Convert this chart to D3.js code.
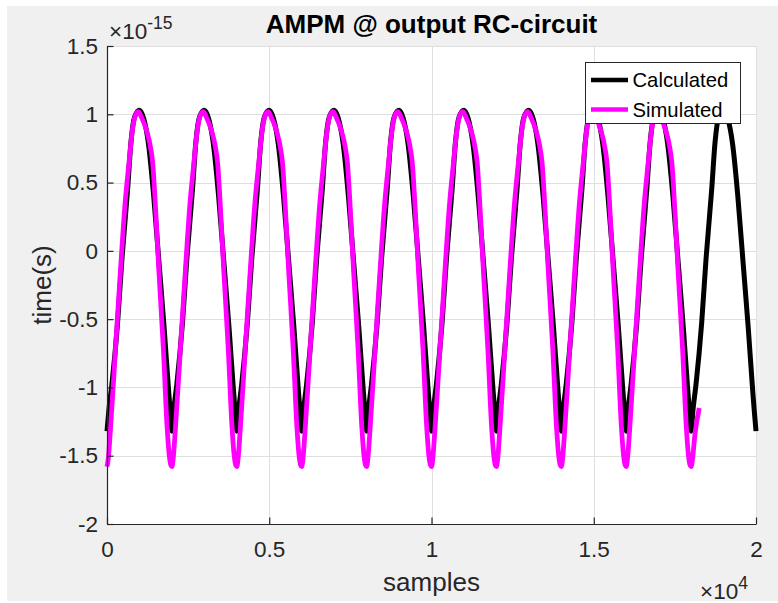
<!DOCTYPE html>
<html>
<head>
<meta charset="utf-8">
<script src="https://cdn.jsdelivr.net/npm/d3@7/dist/d3.min.js"></script>
<style>
  html, body { margin: 0; padding: 0; background: #ffffff; }
  svg { display: block; font-family: "Liberation Sans", Arial, Helvetica, sans-serif; }
</style>
</head>
<body>
<svg id="chart" width="778" height="603"></svg>
<script>
// Calculated AM-PM response (time in units of 1e-15 s) vs. sample index
const calcSamples = [
  0, 60, 150, 325, 460, 635, 740, 850, 1000, 1130, 1280, 1440, 1600, 1760, 1900, 1950,
  2000, 2060, 2150, 2325, 2460, 2635, 2740, 2850, 3000, 3130, 3280, 3440, 3600, 3760, 3900, 3950,
  4000, 4060, 4150, 4325, 4460, 4635, 4740, 4850, 5000, 5130, 5280, 5440, 5600, 5760, 5900, 5950,
  6000, 6060, 6150, 6325, 6460, 6635, 6740, 6850, 7000, 7130, 7280, 7440, 7600, 7760, 7900, 7950,
  8000, 8060, 8150, 8325, 8460, 8635, 8740, 8850, 9000, 9130, 9280, 9440, 9600, 9760, 9900, 9950,
  10000, 10060, 10150, 10325, 10460, 10635, 10740, 10850, 11000, 11130, 11280, 11440, 11600, 11760, 11900, 11950,
  12000, 12060, 12150, 12325, 12460, 12635, 12740, 12850, 13000, 13130, 13280, 13440, 13600, 13760, 13900, 13950,
  14000, 14060, 14150, 14325, 14460, 14635, 14740, 14850, 15000, 15130, 15280, 15440, 15600, 15760, 15900, 15950,
  16000, 16060, 16150, 16325, 16460, 16635, 16740, 16850, 17000, 17130, 17280, 17440, 17600, 17760, 17900, 17950,
  18000, 18060, 18150, 18325, 18460, 18635, 18740, 18850, 19000, 19130, 19280, 19440, 19600, 19760, 19900, 19950,
  20000
];
const calcValues = [
  -1.32, -1.16, -0.98, -0.53, -0.06, 0.45, 0.80, 0.98, 1.03, 0.97, 0.78, 0.40, -0.08, -0.56, -1.03, -1.18,
  -1.32, -1.16, -0.98, -0.53, -0.06, 0.45, 0.80, 0.98, 1.03, 0.97, 0.78, 0.40, -0.08, -0.56, -1.03, -1.18,
  -1.32, -1.16, -0.98, -0.53, -0.06, 0.45, 0.80, 0.98, 1.03, 0.97, 0.78, 0.40, -0.08, -0.56, -1.03, -1.18,
  -1.32, -1.16, -0.98, -0.53, -0.06, 0.45, 0.80, 0.98, 1.03, 0.97, 0.78, 0.40, -0.08, -0.56, -1.03, -1.18,
  -1.32, -1.16, -0.98, -0.53, -0.06, 0.45, 0.80, 0.98, 1.03, 0.97, 0.78, 0.40, -0.08, -0.56, -1.03, -1.18,
  -1.32, -1.16, -0.98, -0.53, -0.06, 0.45, 0.80, 0.98, 1.03, 0.97, 0.78, 0.40, -0.08, -0.56, -1.03, -1.18,
  -1.32, -1.16, -0.98, -0.53, -0.06, 0.45, 0.80, 0.98, 1.03, 0.97, 0.78, 0.40, -0.08, -0.56, -1.03, -1.18,
  -1.32, -1.16, -0.98, -0.53, -0.06, 0.45, 0.80, 0.98, 1.03, 0.97, 0.78, 0.40, -0.08, -0.56, -1.03, -1.18,
  -1.32, -1.16, -0.98, -0.53, -0.06, 0.45, 0.80, 0.98, 1.03, 0.97, 0.78, 0.40, -0.08, -0.56, -1.03, -1.18,
  -1.32, -1.16, -0.98, -0.53, -0.06, 0.45, 0.80, 0.98, 1.03, 0.97, 0.78, 0.40, -0.08, -0.56, -1.03, -1.18,
  -1.32
];

// Simulated AM-PM response
const simSamples = [
  0, 40, 100, 250, 400, 555, 680, 780, 870, 965, 1060, 1220, 1340, 1410, 1480, 1600, 1740, 1850, 1920, 1970,
  2000, 2040, 2100, 2250, 2400, 2555, 2680, 2780, 2870, 2965, 3060, 3220, 3340, 3410, 3480, 3600, 3740, 3850, 3920, 3970,
  4000, 4040, 4100, 4250, 4400, 4555, 4680, 4780, 4870, 4965, 5060, 5220, 5340, 5410, 5480, 5600, 5740, 5850, 5920, 5970,
  6000, 6040, 6100, 6250, 6400, 6555, 6680, 6780, 6870, 6965, 7060, 7220, 7340, 7410, 7480, 7600, 7740, 7850, 7920, 7970,
  8000, 8040, 8100, 8250, 8400, 8555, 8680, 8780, 8870, 8965, 9060, 9220, 9340, 9410, 9480, 9600, 9740, 9850, 9920, 9970,
  10000, 10040, 10100, 10250, 10400, 10555, 10680, 10780, 10870, 10965, 11060, 11220, 11340, 11410, 11480, 11600, 11740, 11850, 11920, 11970,
  12000, 12040, 12100, 12250, 12400, 12555, 12680, 12780, 12870, 12965, 13060, 13220, 13340, 13410, 13480, 13600, 13740, 13850, 13920, 13970,
  14000, 14040, 14100, 14250, 14400, 14555, 14680, 14780, 14870, 14965, 15060, 15220, 15340, 15410, 15480, 15600, 15740, 15850, 15920, 15970,
  16000, 16040, 16100, 16250, 16400, 16555, 16680, 16780, 16870, 16965, 17060, 17220, 17340, 17410, 17480, 17600, 17740, 17850, 17920, 17970,
  18000, 18040, 18120, 18250
];
const simValues = [
  -1.58, -1.52, -1.33, -0.76, -0.20, 0.34, 0.65, 0.88, 0.99, 1.02, 0.98, 0.88, 0.76, 0.64, 0.38, -0.15, -0.73, -1.28, -1.50, -1.57,
  -1.58, -1.52, -1.33, -0.76, -0.20, 0.34, 0.65, 0.88, 0.99, 1.02, 0.98, 0.88, 0.76, 0.64, 0.38, -0.15, -0.73, -1.28, -1.50, -1.57,
  -1.58, -1.52, -1.33, -0.76, -0.20, 0.34, 0.65, 0.88, 0.99, 1.02, 0.98, 0.88, 0.76, 0.64, 0.38, -0.15, -0.73, -1.28, -1.50, -1.57,
  -1.58, -1.52, -1.33, -0.76, -0.20, 0.34, 0.65, 0.88, 0.99, 1.02, 0.98, 0.88, 0.76, 0.64, 0.38, -0.15, -0.73, -1.28, -1.50, -1.57,
  -1.58, -1.52, -1.33, -0.76, -0.20, 0.34, 0.65, 0.88, 0.99, 1.02, 0.98, 0.88, 0.76, 0.64, 0.38, -0.15, -0.73, -1.28, -1.50, -1.57,
  -1.58, -1.52, -1.33, -0.76, -0.20, 0.34, 0.65, 0.88, 0.99, 1.02, 0.98, 0.88, 0.76, 0.64, 0.38, -0.15, -0.73, -1.28, -1.50, -1.57,
  -1.58, -1.52, -1.33, -0.76, -0.20, 0.34, 0.65, 0.88, 0.99, 1.02, 0.98, 0.88, 0.76, 0.64, 0.38, -0.15, -0.73, -1.28, -1.50, -1.57,
  -1.58, -1.52, -1.33, -0.76, -0.20, 0.34, 0.65, 0.88, 0.99, 1.02, 0.98, 0.88, 0.76, 0.64, 0.38, -0.15, -0.73, -1.28, -1.50, -1.57,
  -1.58, -1.52, -1.33, -0.76, -0.20, 0.34, 0.65, 0.88, 0.99, 1.02, 0.98, 0.88, 0.76, 0.64, 0.38, -0.15, -0.73, -1.28, -1.50, -1.57,
  -1.58, -1.53, -1.34, -1.15
];

const xTicks = [0, 5000, 10000, 15000, 20000];
const xTickLabels = ["0", "0.5", "1", "1.5", "2"];
const yTicks = [-2, -1.5, -1, -0.5, 0, 0.5, 1, 1.5];
const yTickLabels = ["-2", "-1.5", "-1", "-0.5", "0", "0.5", "1", "1.5"];
const seriesNames = ["Calculated", "Simulated"];
const seriesColors = ["#000000", "#ff00ff"];

const svg = d3.select("#chart");
const W = 778, H = 603;
const plot = { left: 107, right: 756, top: 46, bottom: 524 };
const ink = "#262626";
const tickFont = 22.5;

// figure background
svg.append("rect").attr("x", 0).attr("y", 0).attr("width", W).attr("height", H).attr("fill", "#ffffff");
svg.append("rect").attr("x", 7).attr("y", 6).attr("width", W - 7).attr("height", 595).attr("fill", "#f0f0f0");

// axes area
svg.append("rect")
  .attr("x", plot.left).attr("y", plot.top)
  .attr("width", plot.right - plot.left).attr("height", plot.bottom - plot.top)
  .attr("fill", "#ffffff");

const x = d3.scaleLinear().domain([0, 20000]).range([plot.left, plot.right]);
const y = d3.scaleLinear().domain([-2, 1.5]).range([plot.bottom, plot.top]);

// grid
const grid = svg.append("g").attr("stroke", "#dfdfdf").attr("stroke-width", 1);
grid.selectAll("line.gx").data(xTicks).join("line")
  .attr("x1", d => Math.round(x(d)) + 0.5).attr("x2", d => Math.round(x(d)) + 0.5)
  .attr("y1", plot.top).attr("y2", plot.bottom);
grid.selectAll("line.gy").data(yTicks).join("line")
  .attr("x1", plot.left).attr("x2", plot.right)
  .attr("y1", d => Math.round(y(d)) + 0.5).attr("y2", d => Math.round(y(d)) + 0.5);

// series lines
const line = d3.line()
  .x(d => x(d[0]))
  .y(d => y(d[1]))
  .curve(d3.curveMonotoneX);

const calcData = calcSamples.map((s, i) => [s, calcValues[i]]);
const simData = simSamples.map((s, i) => [s, simValues[i]]);

svg.append("defs").append("filter").attr("id", "soft")
  .append("feGaussianBlur").attr("stdDeviation", 0.45);

svg.append("path").datum(calcData)
  .attr("d", line)
  .attr("fill", "none")
  .attr("stroke", seriesColors[0])
  .attr("stroke-width", 5)
  .attr("stroke-linejoin", "round")
  .attr("filter", "url(#soft)");

svg.append("path").datum(simData)
  .attr("d", line)
  .attr("fill", "none")
  .attr("stroke", seriesColors[1])
  .attr("stroke-width", 4.8)
  .attr("stroke-linejoin", "round");

// axes
const xAxis = d3.axisBottom(x)
  .tickValues(xTicks)
  .tickFormat((d, i) => xTickLabels[i])
  .tickSizeInner(-6.5)
  .tickSizeOuter(0)
  .tickPadding(17);
const yAxis = d3.axisLeft(y)
  .tickValues(yTicks)
  .tickFormat((d, i) => yTickLabels[i])
  .tickSizeInner(-6.5)
  .tickSizeOuter(0)
  .tickPadding(9);

const gx = svg.append("g").attr("transform", `translate(0,${plot.bottom})`).call(xAxis);
const gy = svg.append("g").attr("transform", `translate(${plot.left},0)`).call(yAxis);
[gx, gy].forEach(g => {
  g.selectAll("path.domain").attr("stroke", ink).attr("stroke-width", 1.2);
  g.selectAll(".tick line").attr("stroke", ink).attr("stroke-width", 1.2);
  g.selectAll(".tick text")
    .attr("fill", ink)
    .style("font-family", "'Liberation Sans', Arial, sans-serif")
    .style("font-size", tickFont + "px");
});

// exponent labels
const expY = svg.append("text")
  .attr("x", 109).attr("y", 39)
  .attr("fill", ink)
  .style("font-size", tickFont + "px");
expY.append("tspan").text("\u00d710");
expY.append("tspan").attr("dy", -10).style("font-size", "17.5px").text("-15");

const expX = svg.append("text")
  .attr("x", 700).attr("y", 599)
  .attr("fill", ink)
  .style("font-size", tickFont + "px");
expX.append("tspan").text("\u00d710");
expX.append("tspan").attr("dy", -10).style("font-size", "17.5px").text("4");

// title and axis labels
svg.append("text")
  .attr("x", (plot.left + plot.right) / 2).attr("y", 33)
  .attr("text-anchor", "middle")
  .attr("fill", "#000000")
  .style("font-size", "26px").style("font-weight", "bold")
  .text("AMPM @ output RC-circuit");

svg.append("text")
  .attr("x", (plot.left + plot.right) / 2).attr("y", 591)
  .attr("text-anchor", "middle")
  .attr("fill", ink)
  .style("font-size", "26px")
  .text("samples");

svg.append("text")
  .attr("transform", `translate(51,${(plot.top + plot.bottom) / 2}) rotate(-90)`)
  .attr("text-anchor", "middle")
  .attr("fill", ink)
  .style("font-size", "26px")
  .text("time(s)");

// legend
const legend = svg.append("g");
legend.append("rect")
  .attr("x", 585.5).attr("y", 62.5).attr("width", 155).attr("height", 61)
  .attr("fill", "#ffffff").attr("stroke", ink).attr("stroke-width", 1);
const rows = legend.selectAll("g.row").data(seriesNames).join("g")
  .attr("transform", (d, i) => `translate(0,${80 + i * 29.5})`);
rows.append("line")
  .attr("x1", 591).attr("x2", 628).attr("y1", 0).attr("y2", 0)
  .attr("stroke", (d, i) => seriesColors[i]).attr("stroke-width", 4.5);
rows.append("text")
  .attr("x", 632.5).attr("y", 7)
  .attr("fill", "#000000")
  .style("font-size", "20.25px")
  .text(d => d);
</script>
</body>
</html>
